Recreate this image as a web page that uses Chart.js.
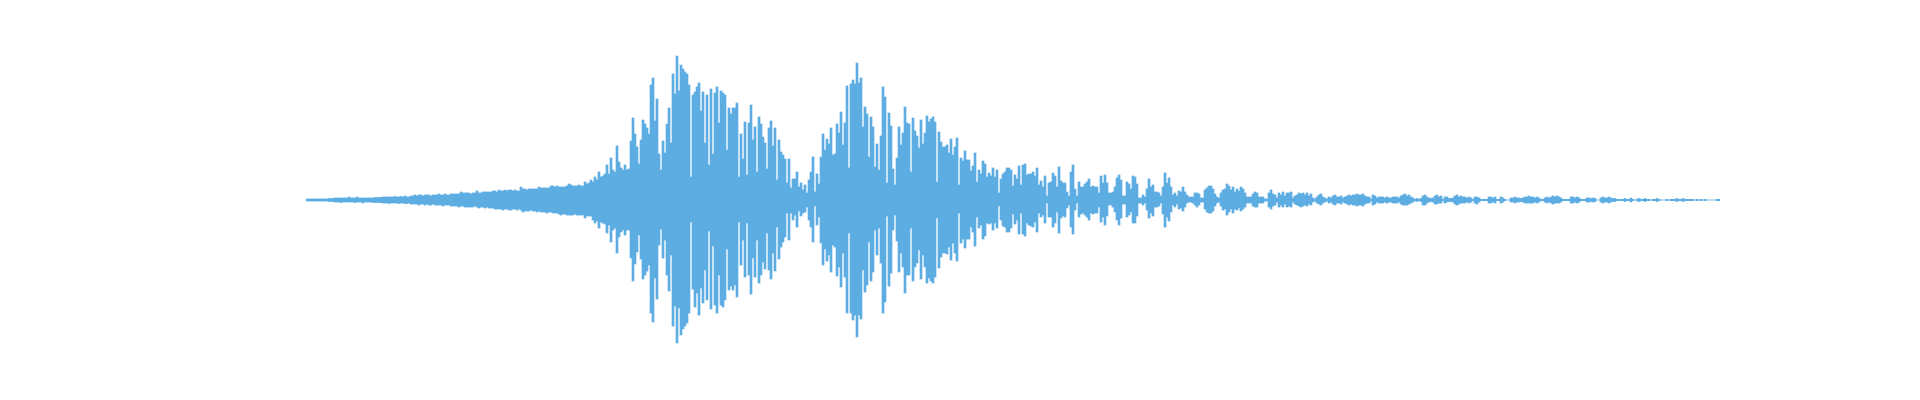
<!DOCTYPE html>
<html>
<head>
<meta charset="utf-8">
<script src="https://cdn.jsdelivr.net/npm/chart.js@4.4.1/dist/chart.umd.min.js"></script>
<style>
  html, body { margin: 0; padding: 0; background: #ffffff; }
  #wrap { width: 1920px; height: 400px; position: relative; }
</style>
</head>
<body>
<div id="wrap"><canvas id="c"></canvas></div>
<script>
// Waveform peaks (amplitude above / below the centre line), one value per bucket
const upperPeaks = [
  // onset ramp
  1,1,1,1,1,1,1,1,1,1,1,1.5,1.5,1.5,
  2,2,2,2,2,2,2,3,2,2,2,3,2,2,2,2,2,2,2,2,2.5,2.5,2.5,2.5,
  3,3,3,3,3,3,3.5,3,3,3.5,3,4,3,3,4,
  4,5,4,5,5,4,5,5,5,4,5,5,5,6,5,5,6,5,5,6,6,
  6,6,6,8,7,7,7,7,6,7,7,9,7,7,8,8,8,8,
  8,9,9,8,10,9,9,10,9,10,10,9,10,9,9,13,11,11,10,11,11,11,
  11,11,13,12,12,12,12,12,14,14,13,14,13,13,13,13,14,
  16,15,14,14,14,15,14,14,18,16,17,20,18,23,20,28,
  // first burst
  23,24,26,35,26,42,30,28,54,38,
  32,30,35,30,31,59,82,66,53,36,
  60,80,76,72,66,115,122,79,101,46,
  30,59,47,76,92,57,126,106,144,109,
  135,131,128,126,115,23,105,108,113,117,
  89,108,57,105,35,111,46,107,113,77,
  109,107,105,50,92,86,92,92,97,23,
  // dip and second burst
  66,41,78,25,77,95,60,73,28,83,
  76,63,57,31,72,79,54,72,20,60,
  48,45,41,17,41,12,21,21,28,13,
  17,10,15,7,20,28,43,8,26,16,
  43,66,50,61,56,72,45,46,76,67,
  88,55,77,114,32,116,120,116,137,117,
  122,73,93,86,43,83,73,33,56,30,
  // decay
  64,113,103,17,87,74,31,15,42,73,
  55,67,93,77,76,28,82,69,64,52,
  80,56,67,84,78,81,83,78,18,68,
  58,53,53,55,47,61,45,53,62,15,
  42,39,49,40,40,29,34,47,18,30,
  26,39,36,23,27,24,32,23,30,7,
  21,26,28,32,32,30,14,25,21,34,
  // tail bursts
  15,35,36,25,26,26,28,24,32,15,
  19,13,24,4,17,18,27,24,13,33,
  19,17,17,8,4,28,35,11,4,18,
  13,13,16,18,21,13,14,13,13,7,
  24,17,25,17,7,7,8,13,22,25,
  20,4,4,18,16,11,24,23,16,2,
  2,5,3,11,21,13,15,8,8,7,
  4,13,27,17,22,13,5,7,4,9,
  8,13,8,5,3,3,3,7,7,6,
  2,2,10,12,14,14,11,6,3,2,
  7,10,11,16,14,10,13,8,11,9,
  13,11,7,3,3,3,6,8,7,3,
  3,3,1,1,7,10,6,5,2,7,
  5,8,4,7,7,8,2,4,5,7,
  6,7,5,7,4,6,2,1,3,5,
  6,3,2,1,3,2,4,5,3,3,
  4,2,3,4,5,4,5,5,6,5,
  5,6,4,3,3,1,5,4,2,3,
  3,3,2,3,2,2,3,3,3,2,
  // fade out
  4,5,6,4,5,3,2,0.7,1.5,0.7,
  1.5,4,5,3,2,1.5,2,4,5,3,
  4,0.7,3,3,1.5,1.5,2,4,5,3,
  4,3,3,2,3,2,0.7,3,3,2,
  0.7,0.7,0.7,0.7,3,3,2,3,0.7,0.7,
  3,2,0.7,0,0,2,2,3,2,2,
  1.5,2,3,3,4,3,3,2,3,2,
  0.7,0.7,2,3,2,3,4,3,4,3,
  2,0.7,0.7,0.7,0.7,3,3,2,3,2,
  0.7,0.7,0.7,2,2,1.5,2,1.5,0,0,
  2,3,2,2,3,2,1.5,1.5,0.7,0.7,
  0.7,0.7,1.5,0.7,0.7,2,0.7,0,0.7,1.5,
  0.7,0.7,1.5,0.7,0.7,0,0.7,0.7,1.5,0.7,
  0,0,0,0.7,0,0.7,0.7,0.7,1.5,0.7,
  0.7,1.5,0.7,0.7,0.7,0.7,0.7,0,0.7,0,
  0.7,0,0.7,0,0,0,0,0,0.7,0.7
];

const lowerPeaks = [
  1,1,1,1,1,1,1,1,1,1,1,1.5,1.5,1.5,
  2,2,2,2.5,2,2,2,2,2,2,2.5,2,2,2,3,2,2,2,2,2.5,2.5,2.5,2.5,2.5,
  3,3,3,3.5,3,3,3,3,3.5,3,3,3.5,3.5,3,4,
  4,4,4,5,4,4,5,4,5,5,4,5,5,5,5,6,5,5,5,6,6,
  6,6,7,6,6,7,7,7,7,7,6,7,8,7,7,8,7,8,
  8,8,9,9,9,9,10,9,9,10,10,9,9,10,9,10,12,11,11,11,10,11,
  11,12,11,12,12,12,13,12,12,13,13,13,14,15,14,14,15,
  15,15,15,14,15,15,15,15,18,16,16,16,20,23,21,28,
  22,23,24,33,25,42,30,28,53,37,
  32,30,35,30,30,58,81,64,52,35,
  59,79,75,71,65,113,122,78,99,45,
  29,58,40,75,91,55,126,106,143,108,
  135,129,126,123,113,22,89,107,93,115,
  88,103,70,100,31,109,46,105,113,75,
  105,107,100,49,90,86,90,85,97,22,
  65,40,77,23,75,94,58,77,40,83,
  75,62,69,33,70,79,53,71,27,59,
  47,42,37,13,40,13,20,15,27,11,
  16,13,12,7,20,27,42,6,25,17,
  43,65,49,61,55,72,45,47,76,67,
  87,53,77,113,33,113,120,115,137,115,
  119,70,92,85,42,81,72,30,55,28,
  63,113,102,16,86,73,30,15,41,72,
  53,67,93,75,75,28,81,67,63,50,
  79,55,67,83,78,81,83,77,18,68,
  57,53,53,54,47,60,43,53,61,13,
  43,39,48,39,39,27,32,46,17,28,
  25,39,36,23,24,23,30,23,28,6,
  20,26,27,32,32,28,14,24,20,34,
  13,34,36,23,25,26,27,22,32,13,
  17,15,23,3,17,17,27,23,12,33,
  18,16,17,8,5,27,34,10,3,17,
  14,13,15,17,20,13,14,13,13,7,
  22,17,25,16,5,5,7,12,20,25,
  18,4,4,17,15,12,23,23,16,3,
  3,5,3,10,18,13,16,7,7,6,
  3,14,27,17,21,12,5,7,4,9,
  8,11,7,3,2,2,3,5,7,5,
  2,2,9,12,13,13,11,6,3,2,
  6,10,9,15,12,9,13,9,10,8,
  11,9,7,3,3,3,6,7,7,3,
  3,3,1,1,7,9,6,5,2,7,
  5,7,4,7,6,7,2,4,5,6,
  7,6,5,6,4,5,2,1,3,4,
  5,3,2,1,3,2,4,5,3,3,
  4,2,3,4,5,4,5,5,6,5,
  5,6,4,3,3,1,5,4,2,3,
  3,3,2,3,2,2,3,3,3,2,
  4,5,5,5,4,3,2,0.7,1.5,0.7,
  1.5,5,5,3,2,1.5,2,4,4,3,
  3,0.7,3,2,1.5,1.5,2,4,5,4,
  3,3,3,2,3,2,0.7,3,4,2,
  0.7,0.7,0.7,0.7,3,3,2,3,0.7,0.7,
  3,2,0.7,0,0,2,2,3,2,2,
  1.5,2,3,3,3,3,3,2,3,2,
  0.7,0.7,2,3,2,3,4,3,3,3,
  2,0.7,0.7,0.7,0.7,3,3,2,3,2,
  0.7,0.7,0.7,2,2,1.5,2,1.5,0,0,
  2,3,2,2,3,2,1.5,1.5,0.7,0.7,
  0.7,0.7,1.5,0.7,0.7,2,0.7,0,0.7,1.5,
  0.7,0.7,1.5,0.7,0.7,0,0.7,0.7,1.5,0.7,
  0,0,0,0.7,0,0.7,0.7,0.7,1.5,0.7,
  0.7,1.5,0.7,0.7,0.7,0.7,0.7,0,0.7,0,
  0.7,0,0.7,0,0,0,0,0,0.7,0.7
];

const bucketLabels = upperPeaks.map((_, i) => String(i));
const waveColor = '#5DADE2';

new Chart(document.getElementById('c'), {
  type: 'bar',
  data: {
    labels: bucketLabels,
    datasets: [{
      label: 'waveform',
      data: upperPeaks.map((u, i) => [-lowerPeaks[i], u]),
      backgroundColor: waveColor,
      borderWidth: 0,
      barPercentage: 1,
      categoryPercentage: 1
    }]
  },
  options: {
    responsive: true,
    maintainAspectRatio: false,
    devicePixelRatio: 1,
    animation: false,
    layout: { padding: { left: 306, right: 200, top: 0, bottom: 0 } },
    scales: {
      x: { display: false },
      y: { display: false, min: -200, max: 200 }
    },
    plugins: { legend: { display: false }, tooltip: { enabled: false } }
  }
});
</script>
</body>
</html>
